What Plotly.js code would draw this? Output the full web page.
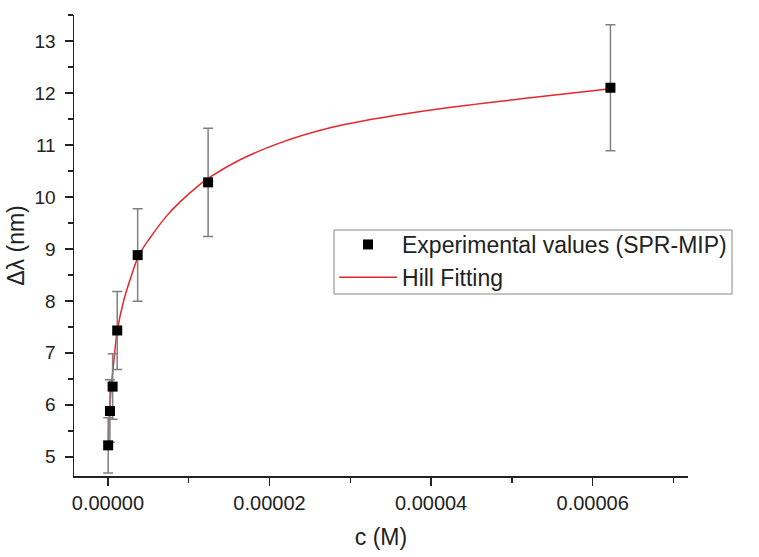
<!DOCTYPE html>
<html>
<head>
<meta charset="utf-8">
<script src="https://cdn.plot.ly/plotly-3.0.1.min.js"></script>
<style>html,body{margin:0;padding:0;background:#fff;}#chart{width:759px;height:557px;}</style>
</head>
<body>
<div id="chart"></div>
<script>
// Experimental values (SPR-MIP)
var concM = [0.00000003, 0.00000025, 0.00000058, 0.00000115, 0.00000368, 0.0000124, 0.0000622];
var deltaLambda = [5.22, 5.88, 6.35, 7.43, 8.88, 10.28, 12.10];
var errLambda = [0.53, 0.60, 0.63, 0.75, 0.89, 1.04, 1.21];

// Hill fitting curve
var fitC = [0.00000003, 0.00000019, 0.00000042, 0.00000074, 0.00000115, 0.00000198, 0.00000285, 0.00000384, 0.0000052, 0.0000073, 0.0000089, 0.0000114, 0.0000124, 0.0000163, 0.0000213, 0.0000275, 0.0000337, 0.0000427, 0.0000531, 0.0000622];
var fitL = [5.21, 5.88, 6.35, 6.85, 7.42, 8.02, 8.46, 8.88, 9.21, 9.64, 9.90, 10.24, 10.355, 10.71, 11.04, 11.33, 11.52, 11.73, 11.92, 12.08];

var seriesNames = ["Experimental values (SPR-MIP)", "Hill Fitting"];

var traces = [
  {
    x: fitC, y: fitL, type: 'scatter', mode: 'lines', name: seriesNames[1],
    line: {color: '#e8262d', width: 1.5, shape: 'spline', smoothing: 1},
    legendrank: 2
  },
  {
    x: concM, y: deltaLambda, type: 'scatter', mode: 'markers', name: seriesNames[0],
    marker: {symbol: 'square', size: 10, color: '#000000'},
    error_y: {type: 'data', array: errLambda, visible: true, color: '#808080', thickness: 1.5, width: 5},
    legendrank: 1
  }
];

var layout = {
  width: 759, height: 557,
  margin: {l: 74, r: 71, t: 15, b: 81},
  paper_bgcolor: '#ffffff', plot_bgcolor: '#ffffff',
  font: {family: 'Liberation Sans, Arial, sans-serif', color: '#222222'},
  showlegend: true,
  legend: {
    x: 0.4235, y: 0.5488, xanchor: 'left', yanchor: 'top',
    bgcolor: 'rgba(0,0,0,0)', borderwidth: 0,
    itemwidth: 58,
    font: {size: 23, color: '#222222'},
    traceorder: 'normal'
  },
  shapes: [{
    type: 'rect', xref: 'paper', yref: 'paper',
    x0: 0.4235, x1: 1.0717, y0: 0.3948, y1: 0.5336,
    line: {color: '#888888', width: 1}, fillcolor: 'rgba(0,0,0,0)', layer: 'above'
  }],
  xaxis: {
    range: [-0.0000042, 0.0000718],
    tick0: 0, dtick: 0.00002, tickformat: '.5f',
    ticks: 'outside', ticklen: 8, tickwidth: 1.5, tickcolor: '#222222',
    minor: {dtick: 0.00001, ticks: 'outside', ticklen: 5, tickwidth: 1.5, tickcolor: '#222222'},
    showline: true, linecolor: '#222222', linewidth: 1.5, mirror: false,
    showgrid: false, zeroline: false,
    tickfont: {size: 20},
    title: {text: 'c (M)', font: {size: 23}, standoff: 16}
  },
  yaxis: {
    range: [4.63, 13.5],
    tick0: 5, dtick: 1,
    ticks: 'outside', ticklen: 8, tickwidth: 1.5, tickcolor: '#222222',
    minor: {dtick: 0.5, ticks: 'outside', ticklen: 5, tickwidth: 1.5, tickcolor: '#222222'},
    showline: true, linecolor: '#222222', linewidth: 1.5, mirror: false,
    showgrid: false, zeroline: false,
    tickfont: {size: 19},
    ticklabelstandoff: 5,
    title: {text: 'Δλ (nm)', font: {size: 23}, standoff: 3}
  }
};

Plotly.newPlot('chart', traces, layout, {displayModeBar: false, staticPlot: true});
</script>
</body>
</html>
